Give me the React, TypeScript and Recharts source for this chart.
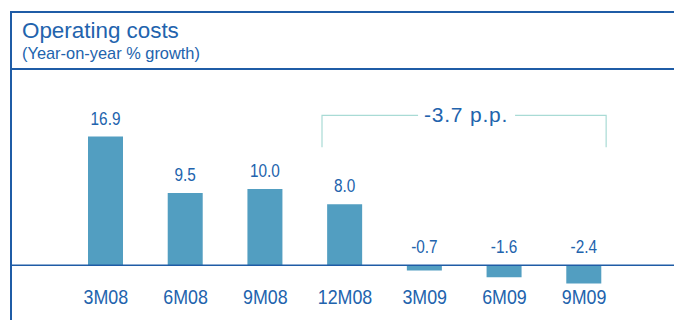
import { BarChart, Bar, XAxis, YAxis, ReferenceLine, LabelList } from "recharts";

const periods = ["3M08", "6M08", "9M08", "12M08", "3M09", "6M09", "9M09"];
const growth = [16.9, 9.5, 10.0, 8.0, -0.7, -1.6, -2.4];
const bracketFrom = "12M08";
const bracketTo = "9M09";
const bracketText = "-3.7 p.p.";

const data = periods.map((p, i) => ({ period: p, value: growth[i] }));

const BLUE = "#1f5ca6";
const TEXT = "#2263ad";
const BAR = "#529ec1";
const TEAL = "#a9dbd5";
const FONT = "'Liberation Sans', Arial, sans-serif";

// value label always sits above whichever edge of the bar is higher
function ValueLabel(props: any) {
  const { x, y, width, height, value } = props;
  const top = Math.min(y, y + height);
  return (
    <text transform={`translate(${x + width / 2},${top - 12}) scale(0.83,1)`} textAnchor="middle"
      fill={TEXT} fontSize={18.5} fontFamily={FONT}>
      {Number(value).toFixed(1)}
    </text>
  );
}

// narrow-looking category labels
function PeriodTick(props: any) {
  const { x, y, payload } = props;
  return (
    <text transform={`translate(${x},${y + 16}) scale(0.87,1)`} textAnchor="middle"
      fill={TEXT} fontSize={20.5} fontFamily={FONT}>
      {payload.value}
    </text>
  );
}

// bracket over 12M08..9M09 with the text in a gap of the line
function Bracket(props: any) {
  const { x1, x2, y1 } = props;
  const l = x1 - 23, r = x2 + 22, mid = (l + r) / 2, drop = 32;
  return (
    <g>
      <path d={`M${l},${y1 + drop}V${y1}H${mid - 46}M${mid + 51},${y1}H${r}V${y1 + drop}`}
        stroke={TEAL} strokeWidth={1.2} fill="none" />
      <text x={mid + 2} y={y1 + 7} textAnchor="middle" fill={TEXT} fontSize={21}
        letterSpacing={0.8} fontFamily={FONT}>
        {bracketText}
      </text>
    </g>
  );
}

export default function App() {
  return (
    <div style={{ position: "absolute", left: 0, top: 0, width: 674, height: 320, background: "#fff", overflow: "hidden" }}>
      <div style={{ position: "absolute", left: 10, top: 11, width: 664, height: 1.5, background: BLUE }} />
      <div style={{ position: "absolute", left: 10, top: 11, width: 1.5, height: 309, background: BLUE }} />
      <div style={{ position: "absolute", left: 10, top: 68, width: 664, height: 1.5, background: BLUE }} />
      <div style={{ position: "absolute", left: 22, top: 19, color: TEXT, fontFamily: FONT, fontSize: 22.4, lineHeight: "24px", whiteSpace: "nowrap" }}>
        Operating costs
      </div>
      <div style={{ position: "absolute", left: 22, top: 44, color: TEXT, fontFamily: FONT, fontSize: 16.4, lineHeight: "18px", whiteSpace: "nowrap" }}>
        (Year-on-year % growth)
      </div>
      <div style={{ position: "absolute", left: 0, top: 0 }}>
        <BarChart width={674} height={320} data={data} margin={{ top: 113, right: 0, left: 10, bottom: 0 }}>
          <XAxis dataKey="period" axisLine={false} tickLine={false} tickSize={0} tickMargin={0} height={32}
            padding={{ left: 56, right: 50 }} interval={0} tick={PeriodTick} />
          <YAxis hide domain={[-3, 20]} allowDataOverflow />
          <ReferenceLine y={0} stroke={BLUE} strokeWidth={1.5} />
          <Bar dataKey="value" fill={BAR} barSize={35} isAnimationActive={false}>
            <LabelList dataKey="value" content={ValueLabel} />
          </Bar>
          <ReferenceLine segment={[{ x: bracketFrom, y: 19.7 }, { x: bracketTo, y: 19.7 }]}
            shape={Bracket} ifOverflow="visible" />
        </BarChart>
      </div>
    </div>
  );
}
